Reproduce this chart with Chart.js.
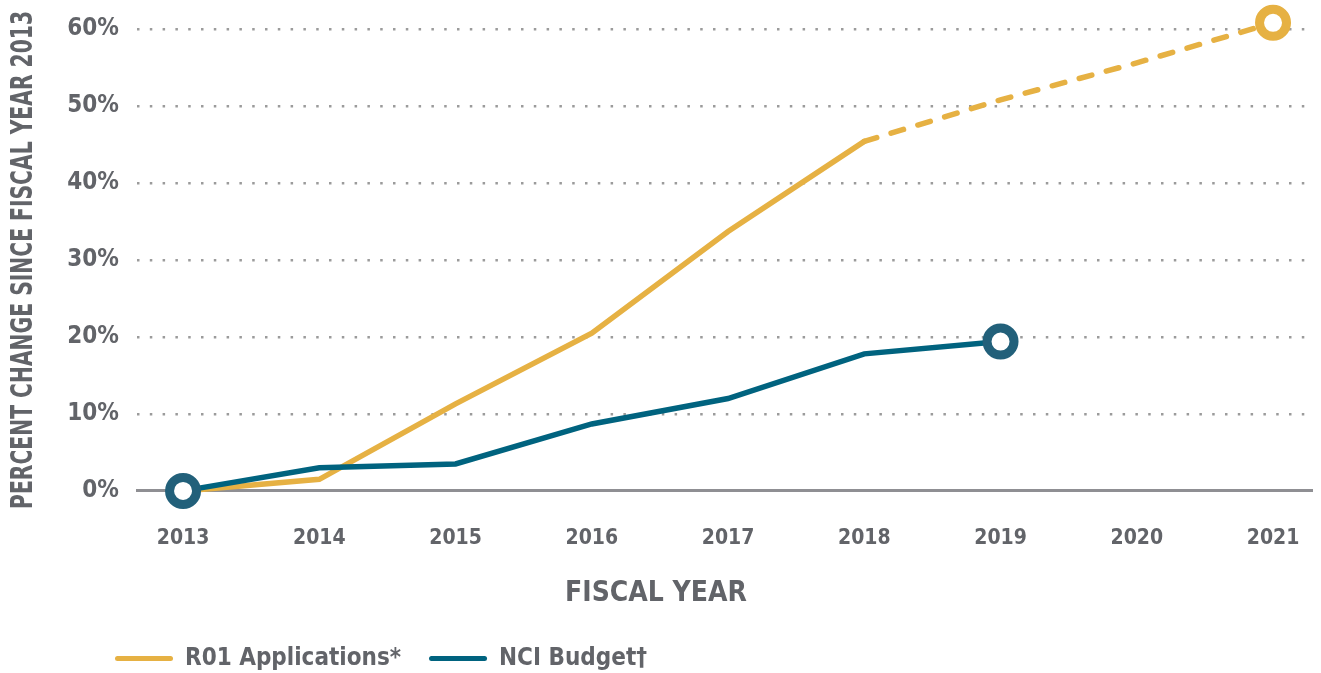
<!DOCTYPE html>
<html>
<head>
<meta charset="utf-8">
<script src="https://cdn.jsdelivr.net/npm/chart.js@4.4.1/dist/chart.umd.min.js"></script>
<style>
  html, body { margin: 0; padding: 0; background: #fff; overflow: hidden; }
  #wrap { width: 1321px; height: 673px; position: relative; }
</style>
</head>
<body>
<div id="wrap"><canvas id="chart"></canvas></div>
<script>
const years = [2013, 2014, 2015, 2016, 2017, 2018, 2019, 2020, 2021];
const r01Applications = [0, 1.5, 11.3, 20.5, 33.7, 45.4, 50.8, 55.6, 60.8];
const nciBudget = [0, 3.0, 3.5, 8.7, 12.0, 17.8, 19.4];
const yTicks = [0, 10, 20, 30, 40, 50, 60];

const FONT = '"DejaVu Sans Condensed", "Liberation Sans Narrow", "DejaVu Sans", sans-serif';
const GOLD = "#E6B143";
const TEAL = "#00637F";
const RING_TEAL = "#22607A";
const TEXT = "#626469";

document.addEventListener("DOMContentLoaded", () => {
  const ctx = document.getElementById("chart").getContext("2d");

  // rotated y title, drawn by hand and squeezed to the length of the original
  const yTitlePlugin = {
    id: "yTitle",
    afterDraw(chart) {
      const c = chart.ctx;
      const area = chart.chartArea;
      const text = "PERCENT CHANGE SINCE FISCAL YEAR 2013";
      c.save();
      c.font = "bold 31px " + FONT;
      const w = c.measureText(text).width;
      c.translate(24, (area.top + area.bottom) / 2);
      c.rotate(-Math.PI / 2);
      c.scale(498 / w, 1);
      c.fillStyle = TEXT;
      c.textAlign = "center";
      c.textBaseline = "middle";
      c.fillText(text, 0, 0);
      c.restore();
    }
  };

  // legend starts a bit in from the left edge
  const legendShift = {
    id: "legendShift",
    afterLayout(chart) {
      if (chart.legend) chart.legend.left = 115 - 28;
    }
  };

  new Chart(ctx, {
    type: "line",
    data: {
      datasets: [
        {
          label: "R01 Applications*",
          data: years.map((yr, i) => ({ x: yr, y: r01Applications[i] })),
          borderColor: GOLD,
          backgroundColor: GOLD,
          borderWidth: 5.5,
          borderCapStyle: "round",
          fill: false,
          tension: 0,
          clip: false,
          order: 2,
          segment: {
            borderDash: c => c.p0DataIndex >= 5 ? [13, 15] : undefined
          },
          pointRadius: c => c.dataIndex === years.length - 1 ? 13.5 : 0,
          pointBorderWidth: 9,
          pointBorderColor: GOLD,
          pointBackgroundColor: "#fff",
          pointHoverRadius: 0
        },
        {
          label: "NCI Budget\u2020",
          data: nciBudget.map((v, i) => ({ x: years[i], y: v })),
          borderColor: TEAL,
          backgroundColor: TEAL,
          borderWidth: 5.5,
          fill: false,
          tension: 0,
          clip: false,
          order: 1,
          pointRadius: c => (c.dataIndex === 0 || c.dataIndex === nciBudget.length - 1) ? 13.5 : 0,
          pointBorderWidth: 9,
          pointBorderColor: RING_TEAL,
          pointBackgroundColor: "#fff",
          pointHoverRadius: 0
        }
      ]
    },
    options: {
      responsive: true,
      maintainAspectRatio: false,
      animation: false,
      layout: {
        autoPadding: false,
        padding: { top: 29, right: 9, left: 0, bottom: 0 }
      },
      scales: {
        x: {
          type: "linear",
          min: 2012.662,
          max: 2021.286,
          afterBuildTicks: scale => {
            scale.ticks = years.map(v => ({ value: v }));
          },
          afterFit: scale => {
            scale.height = 60;
            scale.paddingLeft = 0;
            scale.paddingRight = 0;
          },
          ticks: {
            callback: v => String(v),
            font: { family: FONT, size: 21, weight: "bold" },
            color: TEXT,
            padding: 35,
            maxRotation: 0,
            autoSkip: false
          },
          grid: { display: true, drawOnChartArea: false, drawTicks: false },
          border: { display: true, color: "#8f8f93", width: 3 }
        },
        y: {
          min: 0,
          max: 60,
          afterBuildTicks: scale => {
            scale.ticks = yTicks.map(v => ({ value: v }));
          },
          afterFit: scale => {
            scale.width = 137;
            scale.paddingTop = 0;
            scale.paddingBottom = 0;
          },
          ticks: {
            callback: v => v + "%",
            font: { family: FONT, size: 24, weight: "bold" },
            color: TEXT,
            padding: 18
          },
          grid: {
            color: c => c.tick && c.tick.value === 0 ? "rgba(0,0,0,0)" : "#9b9b9b",
            lineWidth: 2.5,
            drawTicks: false
          },
          border: { display: false, dash: [2.5, 10.3] }
        }
      },
      plugins: {
        tooltip: { enabled: false },
        title: {
          display: true,
          text: "FISCAL YEAR",
          position: "bottom",
          weight: 500,
          color: TEXT,
          font: { family: FONT, size: 28, weight: "bold" },
          padding: { top: 26, bottom: 8 }
        },
        legend: {
          position: "bottom",
          align: "start",
          maxHeight: 54.5,
          labels: {
            color: TEXT,
            font: { family: FONT, size: 24, weight: "bold" },
            boxWidth: 58,
            boxHeight: 5,
            padding: 28,
            useBorderRadius: true,
            borderRadius: 2.5,
            sort: (a, b) => a.datasetIndex - b.datasetIndex,
            generateLabels: chart => {
              const items = Chart.defaults.plugins.legend.labels.generateLabels(chart);
              return items.map(it => Object.assign(it, {
                lineWidth: 0,
                strokeStyle: it.fillStyle,
                lineDash: []
              }));
            }
          }
        }
      }
    },
    plugins: [yTitlePlugin, legendShift]
  });
});
</script>
</body>
</html>
